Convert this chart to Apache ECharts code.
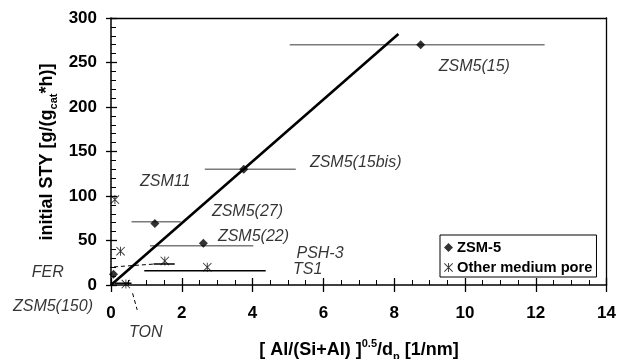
<!DOCTYPE html>
<html>
<head>
<meta charset="utf-8">
<script src="https://cdn.jsdelivr.net/npm/echarts@6/dist/echarts.min.js"></script>
<style>
html, body { margin: 0; padding: 0; background: #fff; }
#chart { width: 619px; height: 359px; }
</style>
</head>
<body>
<div id="chart"></div>
<script>
// ZSM-5 samples
var zsmNames = ['ZSM5(15)', 'ZSM5(15bis)', 'ZSM5(27)', 'ZSM5(22)', 'ZSM5(150)'];
var zsmX = [8.75, 3.75, 1.24, 2.61, 0.07];
var zsmY = [270, 130, 69, 47, 12];
// horizontal error bars (x range + y where bar drawn)
var zsmLo = [5.05, 2.65, 0.58, 1.10];
var zsmHi = [12.25, 5.22, 1.97, 4.02];
var zsmBarY = [270, 130, 71, 44];

// other medium pore zeolites
var othX = [0.11, 0.27, 1.52, 2.72, 0.42];
var othY = [96, 38, 27, 20, 1];
var othLo = [1.20, 0.94, 0.11];
var othHi = [1.80, 4.37, 0.58];
var othBarY = [23.6, 16, 2];

// linear fit
var fitX = [0, 8.12];
var fitY = [0, 282];

// sample labels, [x, y] of left edge
var lblText = ['ZSM5(15)', 'ZSM5(15bis)', 'ZSM11', 'ZSM5(27)', 'ZSM5(22)', 'PSH-3', 'TS1', 'FER', 'ZSM5(150)', 'TON'];
var lblX = [9.26, 5.62, 0.82, 2.85, 3.02, 5.24, 5.14, -2.24, -2.77, 0.51];
var lblY = [246, 138, 116, 82, 54, 35.5, 17, 14, -24.7, -53.6];

// dashed leader lines
var ferLead = [[-1.1, 17], [1.24, 23.6]];
var z150Lead = [[-0.03, 0], [-0.4, -18.8]];
var tonLead = [[0.61, -9.3], [0.74, -28]];

var FONT = 'Arial, "Liberation Sans", sans-serif';
var ASTER = 'path://M4.5 0 L5.5 0 L5.5 10 L4.5 10 Z M0 0.7 L0.7 0 L10 9.3 L9.3 10 Z M9.3 0 L10 0.7 L0.7 10 L0 9.3 Z';

var chart = echarts.init(document.getElementById('chart'));

function pairs(xs, ys) {
	var out = [];
	for (var i = 0; i < xs.length; i++) out.push([xs[i], ys[i]]);
	return out;
}

function barData(lo, hi, y) {
	var out = [];
	for (var i = 0; i < lo.length; i++) out.push([lo[i], hi[i], y[i]]);
	return out;
}

function barSeries(data, color) {
	return {
		type: 'custom',
		silent: true,
		clip: false,
		data: data,
		renderItem: function (params, api) {
			var p1 = api.coord([api.value(0), api.value(2)]);
			var p2 = api.coord([api.value(1), api.value(2)]);
			return {
				type: 'line',
				shape: { x1: p1[0], y1: p1[1], x2: p2[0], y2: p2[1] },
				style: { stroke: color, lineWidth: 1.5 }
			};
		},
		z: 2
	};
}

function leadSeries(data) {
	return {
		type: 'line',
		data: data,
		symbol: 'none',
		clip: false,
		silent: true,
		lineStyle: { color: '#000', width: 1, type: [4, 3] },
		z: 2
	};
}

// plain frame axis (top / right border)
function frameAxis(pos, min, max) {
	return {
		type: 'value', min: min, max: max, position: pos,
		axisLine: { show: true, onZero: false, lineStyle: { color: '#000', width: 1.3 } },
		axisTick: { show: false }, axisLabel: { show: false }, splitLine: { show: false }
	};
}

var lblData = [];
for (var i = 0; i < lblText.length; i++) lblData.push({ value: [lblX[i], lblY[i]], name: lblText[i] });

var option = {
	animation: false,
	backgroundColor: '#fff',
	grid: { left: 111, right: 12, top: 18, bottom: 74 },
	xAxis: [{
		type: 'value', min: 0, max: 14, interval: 2,
		axisLine: { lineStyle: { color: '#000', width: 1.5 } },
		axisTick: { inside: false, length: 7, lineStyle: { color: '#000', width: 1.3 } },
		axisLabel: { color: '#000', fontFamily: FONT, fontWeight: 'bold', fontSize: 17, margin: 20 },
		splitLine: { show: false }
	}, {
		type: 'value', min: 0, max: 14, interval: 2, position: 'bottom',
		axisLine: { show: false },
		axisTick: { inside: true, length: 7, lineStyle: { color: '#000', width: 1.3 } },
		minorTick: { show: true, splitNumber: 4, length: 5, lineStyle: { color: '#000', width: 1 } },
		axisLabel: { show: false },
		splitLine: { show: false }
	}, frameAxis('top', 0, 14)],
	yAxis: [{
		type: 'value', min: 0, max: 300, interval: 50,
		axisLine: { lineStyle: { color: '#000', width: 1.5 } },
		axisTick: { inside: false, length: 5, lineStyle: { color: '#000', width: 1.3 } },
		axisLabel: { color: '#000', fontFamily: FONT, fontWeight: 'bold', fontSize: 17, margin: 14 },
		splitLine: { show: false }
	}, {
		type: 'value', min: 0, max: 300, interval: 50, position: 'left',
		axisLine: { show: false },
		axisTick: { inside: true, length: 6, lineStyle: { color: '#000', width: 1.3 } },
		minorTick: { show: true, splitNumber: 5, length: 5, lineStyle: { color: '#000', width: 1 } },
		axisLabel: { show: false },
		splitLine: { show: false }
	}, frameAxis('right', 0, 300)],
	legend: {
		left: 440, top: 235, orient: 'vertical',
		backgroundColor: '#fff',
		borderColor: '#000', borderWidth: 1,
		padding: [5, 4, 2, 4],
		itemGap: 5,
		itemWidth: 9, itemHeight: 9,
		data: [
			{ name: 'ZSM-5', icon: 'diamond' },
			{ name: 'Other medium pore', icon: ASTER }
		],
		textStyle: { color: '#000', fontFamily: FONT, fontWeight: 'bold', fontSize: 14.7, padding: [0, 0, 0, -1] }
	},
	graphic: [{
		type: 'text', x: 359, y: 350,
		style: {
			text: '{b|[ Al/(Si+Al) ]}{sup|0.5}{b|/d}{sub|p}{b| [1/nm]}',
			align: 'center', verticalAlign: 'middle',
			rich: {
				b: { fontFamily: FONT, fontWeight: 'bold', fontSize: 18, lineHeight: 24, fill: '#000' },
				sup: { fontFamily: FONT, fontWeight: 'bold', fontSize: 11, lineHeight: 24, verticalAlign: 'top', fill: '#000' },
				sub: { fontFamily: FONT, fontWeight: 'bold', fontSize: 11, lineHeight: 24, verticalAlign: 'bottom', padding: [7, 0, 0, 0], fill: '#000' }
			}
		}
	}, {
		type: 'text', x: 47, y: 152, rotation: Math.PI / 2,
		style: {
			text: '{b|initial STY [g/(g}{sub|cat}{b|*h)]}',
			align: 'center', verticalAlign: 'middle',
			rich: {
				b: { fontFamily: FONT, fontWeight: 'bold', fontSize: 18, lineHeight: 24, fill: '#000' },
				sub: { fontFamily: FONT, fontWeight: 'bold', fontSize: 11, lineHeight: 24, verticalAlign: 'bottom', padding: [7, 0, 0, 0], fill: '#000' }
			}
		}
	}],
	series: [
		barSeries(barData(zsmLo, zsmHi, zsmBarY), '#7a7a7a'),
		barSeries(barData(othLo, othHi, othBarY), '#000'),
		leadSeries(ferLead),
		leadSeries(z150Lead),
		leadSeries(tonLead),
		{
			type: 'line',
			data: pairs(fitX, fitY),
			symbol: 'none',
			silent: true,
			lineStyle: { color: '#000', width: 2.6 },
			z: 3
		},
		{
			name: 'ZSM-5',
			type: 'scatter',
			data: pairs(zsmX, zsmY),
			symbol: 'diamond',
			symbolSize: 9,
			itemStyle: { color: '#000' },
			clip: false,
			z: 4
		},
		{
			name: 'Other medium pore',
			type: 'scatter',
			data: pairs(othX, othY),
			symbol: ASTER,
			symbolSize: 9,
			itemStyle: { color: '#000' },
			clip: false,
			z: 4
		},
		{
			type: 'scatter',
			data: lblData,
			symbolSize: 0,
			clip: false,
			silent: true,
			label: {
				show: true, position: 'right', distance: 0,
				formatter: function (p) { return p.name; },
				color: '#000', fontFamily: FONT, fontStyle: 'italic', fontSize: 16
			},
			z: 5
		}
	]
};
chart.setOption(option);
</script>
</body>
</html>
